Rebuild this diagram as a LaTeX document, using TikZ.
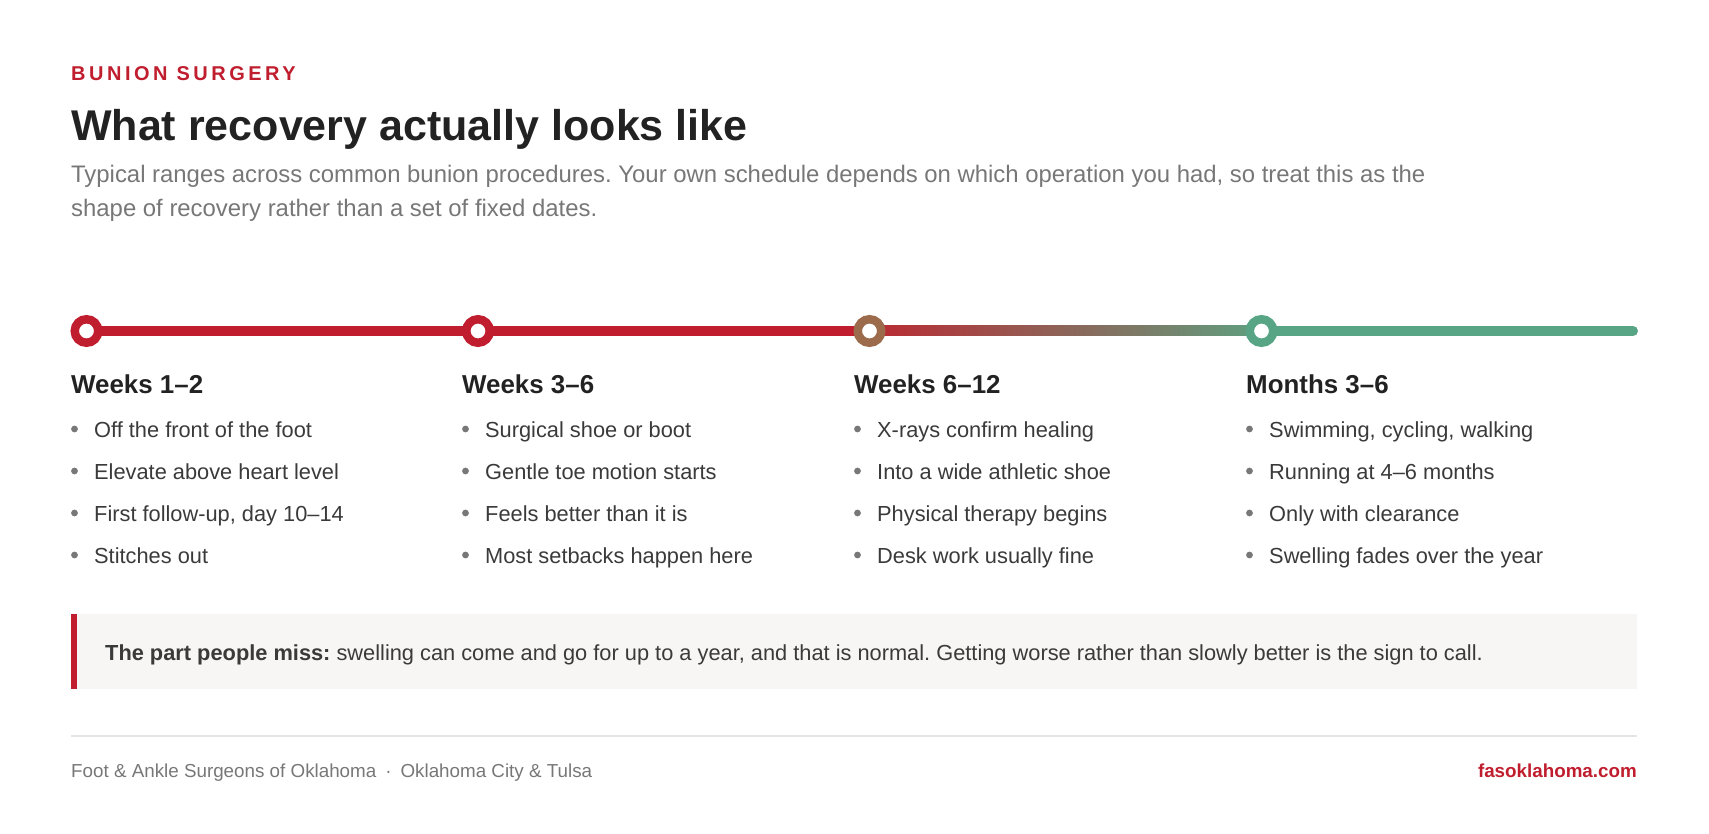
\documentclass[tikz,border=0pt]{standalone}
\usepackage{fontspec}
\setmainfont{Liberation Sans}
\newfontfamily\kickerfont[LetterSpace=17.5]{Liberation Sans}
\usetikzlibrary{positioning}
\definecolor{brandred}{RGB}{192,30,46}
\definecolor{midbrown}{RGB}{155,107,75}
\definecolor{healgreen}{RGB}{88,165,133}
\definecolor{inkcolor}{RGB}{34,34,34}
\definecolor{bodycolor}{RGB}{58,58,58}
\definecolor{mutedcolor}{RGB}{119,119,119}
\definecolor{dotcolor}{RGB}{120,120,120}
\definecolor{notefill}{RGB}{247,246,244}
\definecolor{rulecolor}{RGB}{229,229,229}
\frenchspacing

\begin{document}
\begin{tikzpicture}[x=1pt, y=-1pt]
    % Define styles
    \tikzstyle{kicker} = [anchor=base west, inner sep=0, text=brandred, font=\kickerfont\bfseries\fontsize{20}{24}\selectfont]
    \tikzstyle{headline} = [anchor=base west, inner sep=0, text=inkcolor, font=\bfseries\fontsize{43}{50}\selectfont]
    \tikzstyle{subline} = [anchor=base west, inner sep=0, text=mutedcolor, font=\fontsize{23.9}{34}\selectfont]
    \tikzstyle{stop} = [circle, minimum size=23.5pt, inner sep=0, line width=8.5pt, fill=white]
    \tikzstyle{track} = [line width=10pt]
    \tikzstyle{phase} = [anchor=base west, inner sep=0, text=inkcolor, font=\bfseries\fontsize{25.9}{30}\selectfont]
    \tikzstyle{item} = [anchor=base west, inner sep=0, text=bodycolor, font=\fontsize{21.8}{26}\selectfont]
    \tikzstyle{footer} = [anchor=base west, inner sep=0, text=mutedcolor, font=\fontsize{18.8}{24}\selectfont]

    \useasboundingbox (0,0) rectangle (1709,834);

    % Header
    \node [kicker] (kicker) at (71,81) {BUNION SURGERY};
    \node [headline] (title) at (71,141) {What recovery actually looks like};
    \node [subline] (subtitle) at (71,183) {Typical ranges across common bunion procedures. Your own schedule depends on which operation you had, so treat this as the};
    \node [subline] (subtitle2) at (71,217) {shape of recovery rather than a set of fixed dates.};

    % Timeline
    \coordinate (c1) at (86.5,331);
    \coordinate (c2) at (478,331);
    \coordinate (c3) at (869.5,331);
    \coordinate (c4) at (1261.5,331);
    \coordinate (tend) at (1633,331);
    \draw [track, brandred] (c1) -- (c3);
    \shade [left color=brandred!85!midbrown, right color=healgreen!90!midbrown] (c3) ++(0,-5) rectangle ([yshift=-5pt]c4);
    \draw [track, healgreen, line cap=round] (c4) -- (tend);
    \node [stop, draw=brandred] (s1) at (c1) {};
    \node [stop, draw=brandred] (s2) at (c2) {};
    \node [stop, draw=midbrown] (s3) at (c3) {};
    \node [stop, draw=healgreen] (s4) at (c4) {};

    % Weeks 1-2
    \node [phase] (p1) at (71,394) {Weeks 1–2};
    \node [item] (p1a) at (94,437) {Off the front of the foot};
    \node [item] (p1b) at (94,479) {Elevate above heart level};
    \node [item] (p1c) at (94,521) {First follow-up, day 10–14};
    \node [item] (p1d) at (94,563) {Stitches out};

    % Weeks 3-6
    \node [phase] (p2) at (462,394) {Weeks 3–6};
    \node [item] (p2a) at (485,437) {Surgical shoe or boot};
    \node [item] (p2b) at (485,479) {Gentle toe motion starts};
    \node [item] (p2c) at (485,521) {Feels better than it is};
    \node [item] (p2d) at (485,563) {Most setbacks happen here};

    % Weeks 6-12
    \node [phase] (p3) at (854,394) {Weeks 6–12};
    \node [item] (p3a) at (877,437) {X-rays confirm healing};
    \node [item] (p3b) at (877,479) {Into a wide athletic shoe};
    \node [item] (p3c) at (877,521) {Physical therapy begins};
    \node [item] (p3d) at (877,563) {Desk work usually fine};

    % Months 3-6
    \node [phase] (p4) at (1246,394) {Months 3–6};
    \node [item] (p4a) at (1269,437) {Swimming, cycling, walking};
    \node [item] (p4b) at (1269,479) {Running at 4–6 months};
    \node [item] (p4c) at (1269,521) {Only with clearance};
    \node [item] (p4d) at (1269,563) {Swelling fades over the year};

    % Bullet dots
    \foreach \cx in {74.5,465.5,857.5,1249.5}
      \foreach \cy in {429,471,513,555}
        \fill [dotcolor] (\cx,\cy) circle (3.4);

    % Callout
    \fill [notefill] (71,614) rectangle (1637,689);
    \fill [brandred] (71,614) rectangle (77,689);
    \node [item, font=\fontsize{21.8}{26}\selectfont] (note) at (105,660) {\textbf{The part people miss:} swelling can come and go for up to a year, and that is normal. Getting worse rather than slowly better is the sign to call.};

    % Footer
    \draw [rulecolor, line width=2.5pt] (71,736) -- (1637,736);
    \node [footer] (org) at (71,777) {Foot \& Ankle Surgeons of Oklahoma\hspace{9pt}·\hspace{9pt}Oklahoma City \& Tulsa};
    \node [footer, anchor=base east, text=brandred, font=\bfseries\fontsize{18.8}{24}\selectfont] (site) at (1637,777) {fasoklahoma.com};
\end{tikzpicture}
\end{document}
